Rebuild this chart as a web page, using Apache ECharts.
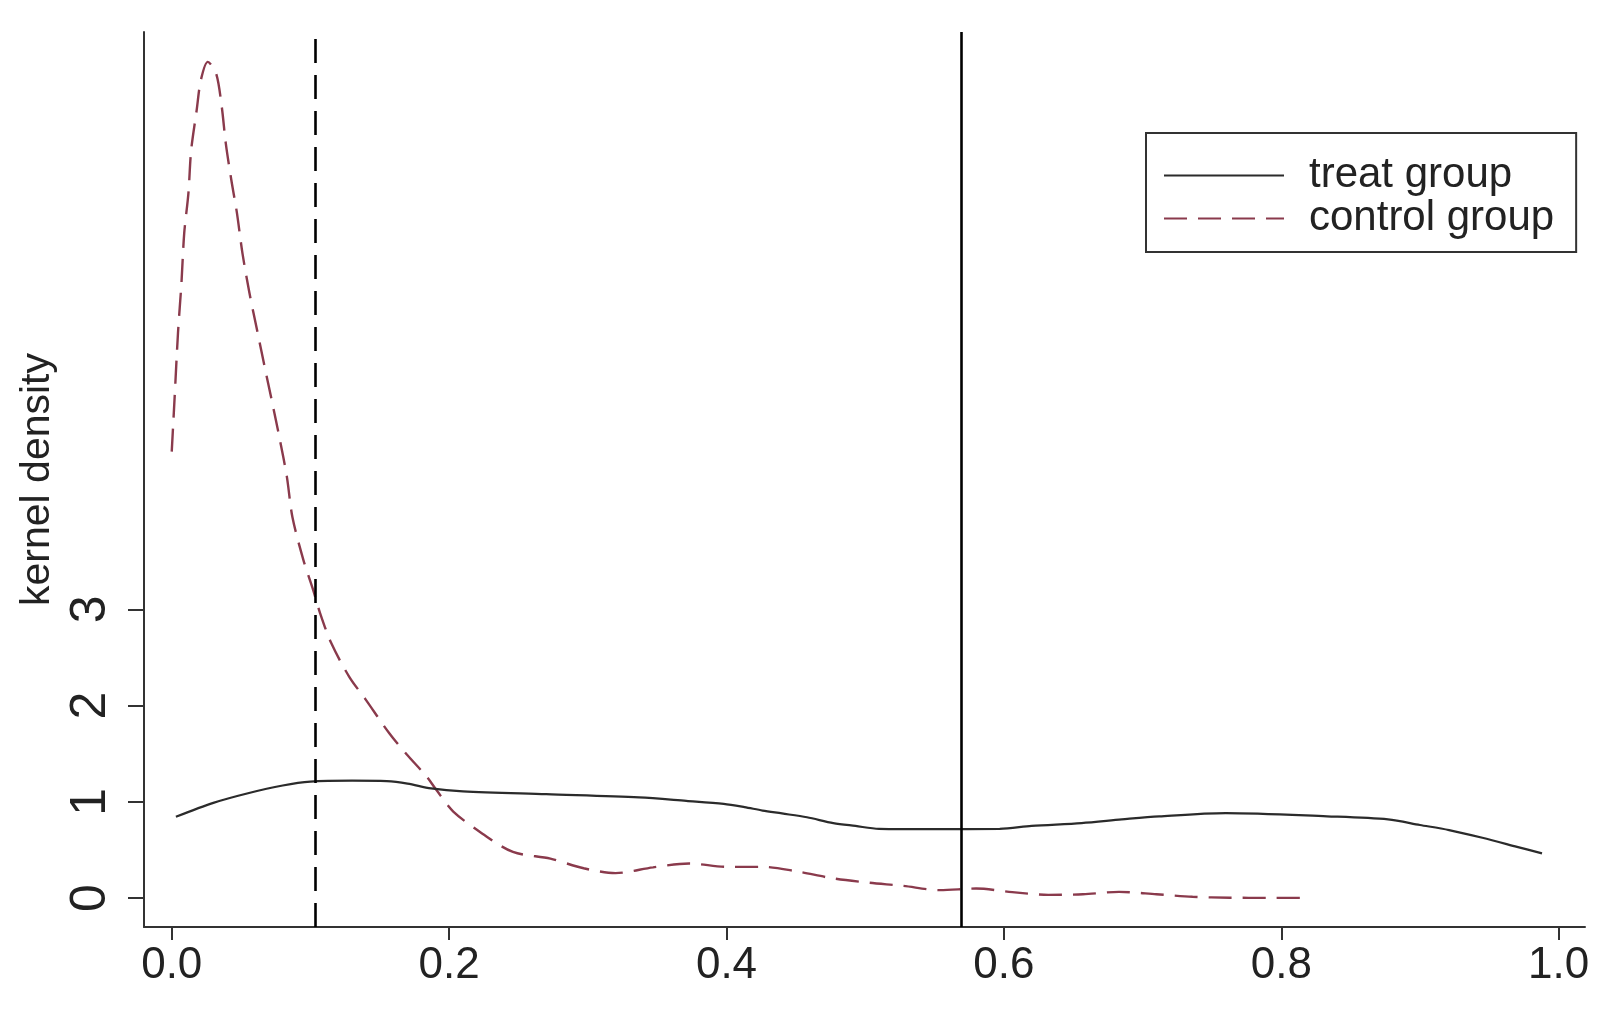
<!DOCTYPE html>
<html>
<head>
<meta charset="utf-8">
<title>kernel density</title>
<script src="https://cdn.jsdelivr.net/npm/echarts@6.0.0/dist/echarts.min.js"></script>
<style>
  html, body { margin: 0; padding: 0; background: #fff; }
  #chart { width: 1613px; height: 1011px; }
</style>
</head>
<body>
<div id="chart"></div>
<script>
/* ============================================================
   kernel density — treat vs control
   横轴 → x 值, 纵轴 → 核密度
   两条竖线：control 均值(虚线) / treat 均值(实线)
   ============================================================ */

// ---- 数据 ----
var treatX = [0.003, 0.03, 0.055, 0.08, 0.10, 0.13, 0.155, 0.17, 0.187, 0.21, 0.27, 0.337, 0.371, 0.398, 0.413,
              0.426, 0.44, 0.458, 0.477, 0.493, 0.51, 0.55, 0.597, 0.62, 0.656, 0.685, 0.712, 0.76, 0.833, 0.877,
              0.90, 0.921, 0.945, 0.97, 0.988];
var treatY = [0.845, 0.99, 1.09, 1.17, 1.21, 1.22, 1.215, 1.19, 1.14, 1.11, 1.08, 1.047, 1.011, 0.98, 0.946,
              0.91, 0.88, 0.84, 0.78, 0.75, 0.72, 0.717, 0.72, 0.75, 0.78, 0.818, 0.85, 0.884, 0.85, 0.818,
              0.76, 0.707, 0.627, 0.533, 0.465];

var controlX = [0.0, 0.002, 0.0045, 0.007, 0.009, 0.012, 0.014, 0.018, 0.021, 0.026, 0.032, 0.036, 0.039, 0.043,
                0.047, 0.051, 0.056, 0.062, 0.067, 0.072, 0.078, 0.083, 0.087, 0.095, 0.102, 0.107, 0.115, 0.128,
                0.14, 0.157, 0.169, 0.184, 0.191, 0.203, 0.224, 0.246, 0.273, 0.297, 0.32, 0.347, 0.373, 0.40,
                0.426, 0.45, 0.477, 0.503, 0.527, 0.554, 0.58, 0.606, 0.632, 0.657, 0.683, 0.71, 0.736, 0.763,
                0.79, 0.818];
var controlY = [4.64, 5.18, 5.87, 6.39, 6.91, 7.32, 7.77, 8.19, 8.50, 8.69, 8.57, 8.23, 7.84, 7.46,
                7.12, 6.70, 6.29, 5.87, 5.52, 5.18, 4.76, 4.38, 3.96, 3.51, 3.20, 2.96, 2.65, 2.30,
                2.06, 1.71, 1.50, 1.26, 1.12, 0.90, 0.67, 0.48, 0.41, 0.31, 0.26, 0.32, 0.36, 0.325,
                0.325, 0.28, 0.205, 0.16, 0.128, 0.083, 0.10, 0.062, 0.034, 0.04, 0.065, 0.04, 0.014, 0.004,
                0.003, 0.003];

// 竖线位置（均值）
var controlMean = 0.1035;
var treatMean   = 0.569;

// 刻度
var xTicks = [0, 0.2, 0.4, 0.6, 0.8, 1.0];
var yTicks = [0, 1, 2, 3];

var seriesNames = ["treat group", "control group"];

// ---- 样式 ----
var FONT      = "'Liberation Sans', Arial, sans-serif";
var AXIS_CLR  = "#333333";
var TEXT_CLR  = "#222222";
var CTRL_CLR  = "#8a3a4c";

function zip(xs, ys) {
  return xs.map(function(x, i) { return [x, ys[i]]; });
}

var chart = echarts.init(document.getElementById("chart"), null, { renderer: "canvas" });

chart.setOption({
  animation: false,
  backgroundColor: "#ffffff",

  // ---- Grid ----
  grid: {
    left: 144,
    right: 28,
    top: 32,
    bottom: 84,
    containLabel: false,
    outerBoundsMode: "none",
  },

  // ---- 图例（右上方框，不要圆点） ----
  legend: {
    data: seriesNames,
    orient: "vertical",
    left: 1146,
    top: 133,
    itemWidth: 120,
    itemHeight: 20,
    itemGap: 0,
    padding: [21, 22, 12, 17],
    backgroundColor: "#ffffff",
    borderColor: "#333333",
    borderWidth: 2,
    itemStyle: { color: "transparent", borderWidth: 0, opacity: 0 },
    textStyle: { fontFamily: FONT, fontSize: 42, color: TEXT_CLR, padding: [0, 0, 0, 20], lineHeight: 43 },
  },

  // ---- 横轴 ----
  xAxis: {
    type: "value",
    min: -0.02,
    max: 1.019,
    axisLine: { show: true, onZero: false, lineStyle: { color: AXIS_CLR, width: 2 } },
    axisTick: { show: true, length: 13, customValues: xTicks, lineStyle: { color: AXIS_CLR, width: 2 } },
    axisLabel: {
      customValues: xTicks,
      margin: 17,
      fontFamily: FONT,
      fontSize: 44,
      color: TEXT_CLR,
      formatter: function(v) { return v.toFixed(1); },
    },
    splitLine: { show: false },
  },

  // ---- 纵轴 ----
  yAxis: {
    type: "value",
    min: -0.3,
    max: 9.0,
    name: "kernel density",
    nameLocation: "middle",
    nameGap: 82,
    nameTextStyle: { fontFamily: FONT, fontSize: 41, color: TEXT_CLR },
    axisLine: { show: true, onZero: false, lineStyle: { color: AXIS_CLR, width: 2 } },
    axisTick: { show: true, length: 16, customValues: yTicks, lineStyle: { color: AXIS_CLR, width: 2 } },
    axisLabel: {
      customValues: yTicks,
      rotate: 90,
      margin: 28,
      fontFamily: FONT,
      fontSize: 50,
      color: TEXT_CLR,
    },
    splitLine: { show: false },
  },

  // ---- 系列 ----
  series: [
    {
      name: seriesNames[0],
      type: "line",
      data: zip(treatX, treatY),
      smooth: 0.3,
      symbol: "none",
      lineStyle: { color: "#2b2b2b", width: 2.2, type: "solid" },
      itemStyle: { color: "#2b2b2b" },
      z: 3,
      markLine: {
        silent: true,
        precision: 4,          // 默认 2 位会把 0.1035 取成 0.10
        symbol: ["none", "none"],
        label: { show: false },
        data: [
          { xAxis: controlMean, lineStyle: { color: "#000000", width: 2.6, type: [24, 12] } },
          { xAxis: treatMean,   lineStyle: { color: "#000000", width: 2.6, type: "solid" } },
        ],
      },
    },
    {
      name: seriesNames[1],
      type: "line",
      data: zip(controlX, controlY),
      smooth: 0.3,
      symbol: "none",
      lineStyle: { color: CTRL_CLR, width: 2.4, type: [23, 11] },
      itemStyle: { color: CTRL_CLR },
      z: 2,
    },
  ],
});
</script>
</body>
</html>
